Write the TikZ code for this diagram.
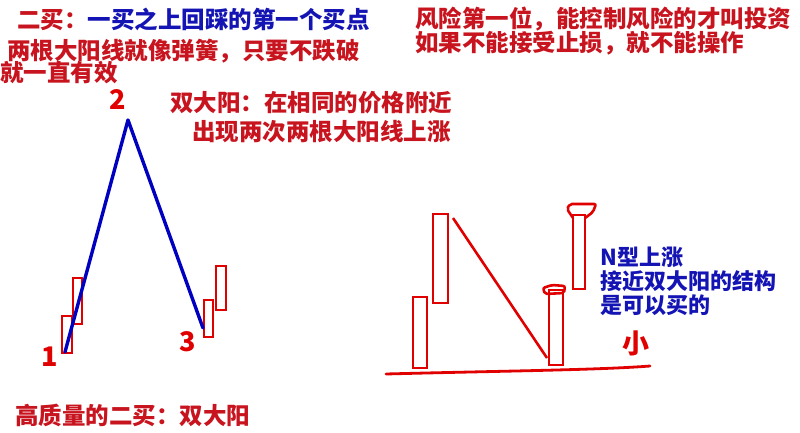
\documentclass[tikz,border=0pt]{standalone}
\usepackage{fontspec}
\usepackage{xcolor}
\setmainfont{Noto Sans CJK SC}
\definecolor{TextRed}{HTML}{C8141E}
\definecolor{TextBlue}{HTML}{1414B4}
\definecolor{PenRed}{HTML}{E00000}
\definecolor{PenBlue}{HTML}{0000C0}

\begin{document}
\begin{tikzpicture}[x=1pt,y=-1pt]
      \tikzstyle{note}=[anchor=west, inner sep=0pt, align=left, text=TextRed,
        font=\fontsize{23.5}{24}\selectfont\bfseries]
      \tikzstyle{hand}=[text=PenRed, inner sep=0pt, font=\fontsize{27}{27}\selectfont\bfseries]
      \tikzstyle{candle}=[draw=PenRed, line width=2.6pt]
      \tikzstyle{pen}=[line width=3.4pt, line cap=round, line join=round]
      \fill[white] (0,0) rectangle (800,433);
      \useasboundingbox (0,0) rectangle (800,433);
      % texts
      \node[note] (buy2) at (17,19) {二买：\textcolor{TextBlue}{一买之上回踩的第一个买点}};
      \node[note] (spring) at (7,51) {两根大阳线就像弹簧，只要不跌破};
      \node[note] (valid) at (0,73) {就一直有效};
      \node[note] (risk) at (415,31) {风险第一位，能控制风险的才叫投资\\如果不能接受止损，就不能操作};
      \node[note] (twin) at (170,103) {双大阳：在相同的价格附近};
      \node[note] (twinb) at (192,132) {出现两次两根大阳线上涨};
      \node[note] (quality) at (15,415) {高质量的二买：双大阳};
      \node[note, text=TextBlue, font=\fontsize{22}{24}\selectfont\bfseries] (nrise) at (600,281)
        {N型上涨\\接近双大阳的结构\\是可以买的};
      % left chart
      \coordinate (p1) at (65,352);
      \coordinate (p2) at (128,120);
      \coordinate (p3) at (203,328);
      \draw[candle] (62,316) rectangle (72,353);
      \draw[candle] (73,278) rectangle (82,324);
      \draw[candle] (204,300) rectangle (213,337);
      \draw[candle] (216,266) rectangle (226,310);
      \draw[pen, PenBlue] (p1) -- (p2) -- (p3);
      \node[hand] (one) at (50,357) {1};
      \node[hand] (two) at (118,100) {2};
      \node[hand] (three) at (188,342) {3};
      % right chart
      \draw[pen, PenRed, line width=2.8pt] (386,374) .. controls (500,371) and (600,370) .. (650,366);
      \draw[candle] (413,297) rectangle (427,368);
      \draw[candle] (433,214) rectangle (448,303);
      \draw[candle] (549,290) rectangle (563,365);
      \draw[candle] (573,215) rectangle (585,289);
      \draw[candle, rounded corners=2pt] (545,294) -- (543,288) -- (552,285) -- (565,286) -- (564,293) -- cycle;
      \draw[candle, rounded corners=2pt] (573,218) -- (567,209) -- (570,204) -- (596,204) -- (593,212) -- (585,218);
      \coordinate (d1) at (453,218);
      \coordinate (d2) at (547,358);
      \draw[PenRed, line width=2.6pt] (d1) -- (d2);
      \node[hand] (small) at (636,343) {小};
    \end{tikzpicture}
\end{document}
